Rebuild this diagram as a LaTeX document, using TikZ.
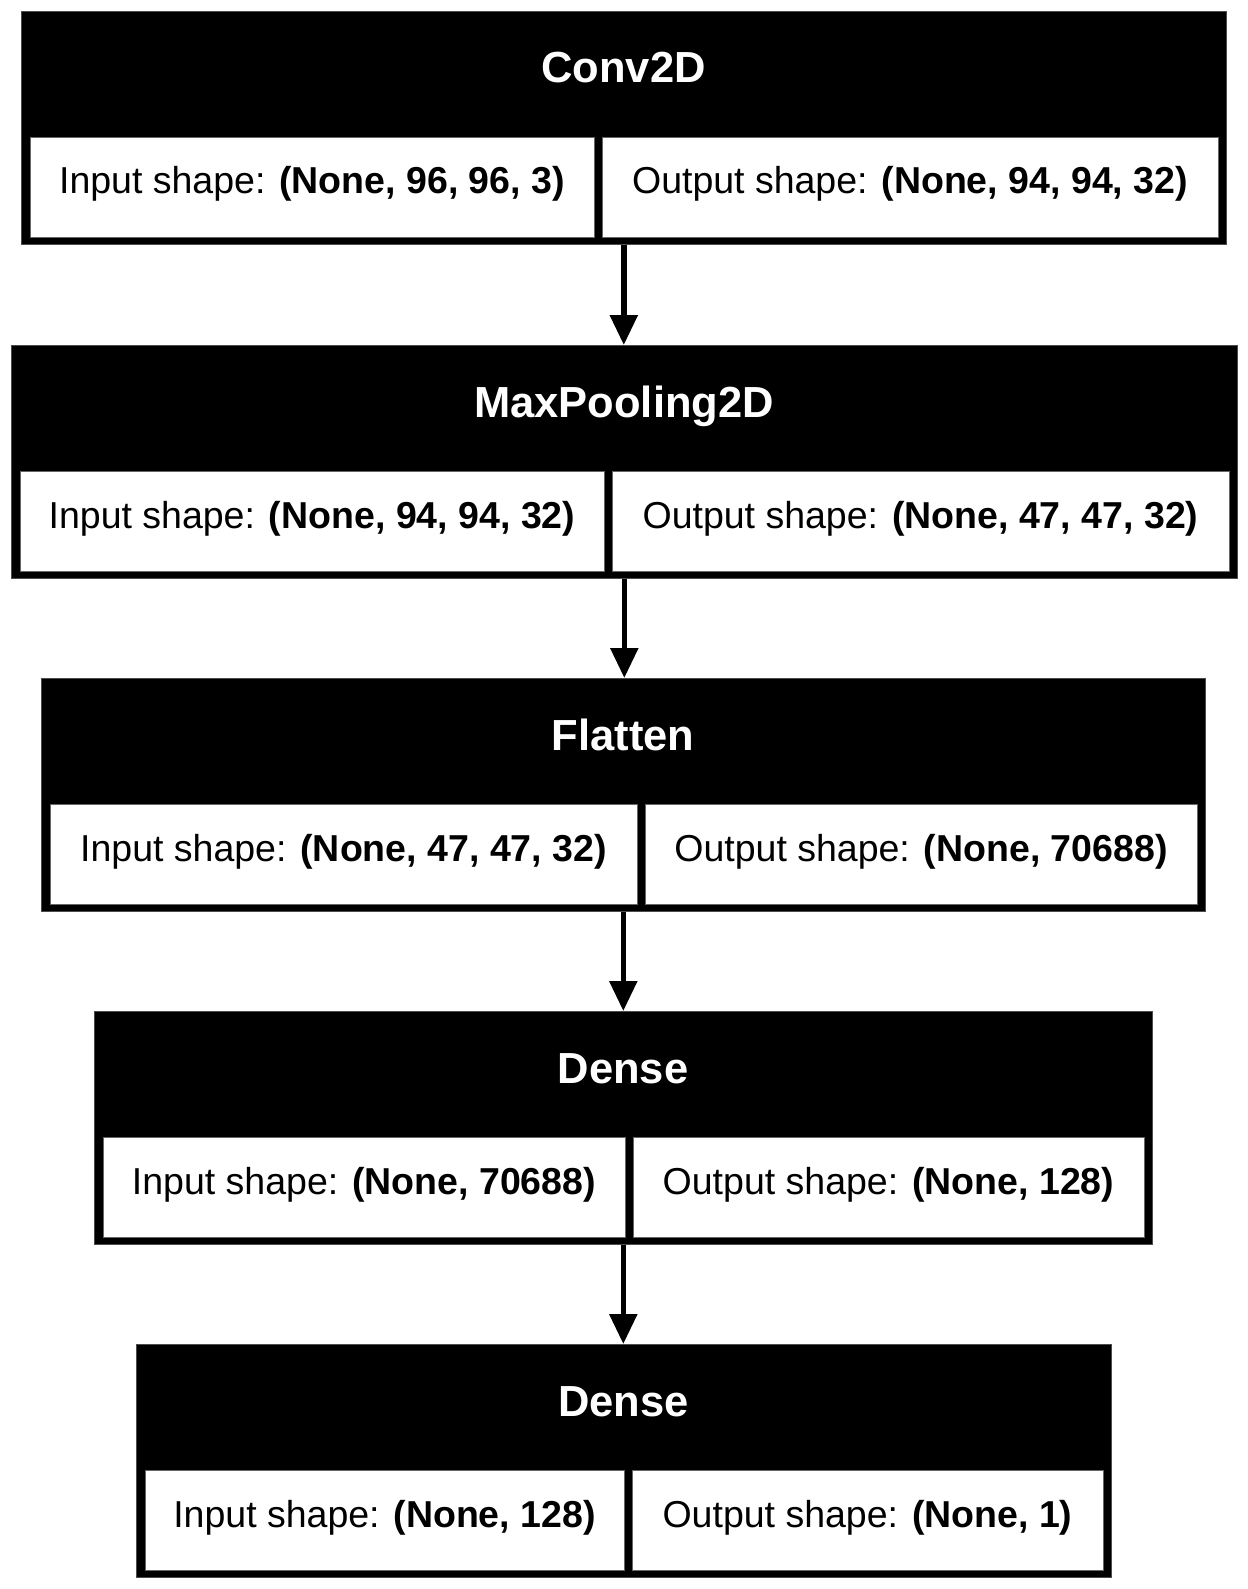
\documentclass[tikz,border=0pt]{standalone}
\usepackage{fontspec}
\setmainfont{Liberation Sans}
\usetikzlibrary{arrows.meta}
\tikzset{
  blk/.style={rectangle, fill=black, draw=black!70, line width=0.6pt, inner sep=0pt, anchor=north west},
  cellbox/.style={rectangle, fill=white, draw=black!60, line width=0.6pt, inner sep=0pt, anchor=north west},
  ttl/.style={anchor=base, inner sep=0pt, text=white, font=\fontsize{43.5}{50}\selectfont\bfseries},
  ctext/.style={anchor=base, inner sep=0pt, text=black, font=\fontsize{37.5}{45}\selectfont},
  arr/.style={line width=5.5pt, -{Triangle[width=27pt,length=30pt]}}
}
% #1 name, #2 top, #3 left, #4 right, #5 divider left, #6 title, #7 input, #8 output
\newcommand\kblock[8]{%
  \node[blk, minimum width={#4-#3}, minimum height=233] (#1) at (#3,#2) {};
  \node[cellbox, minimum width={#5-#3-9}, minimum height=100] (#1in) at (#3+9,#2+126) {};
  \node[cellbox, minimum width={#4-8-#5-8}, minimum height=100] (#1out) at (#5+8,#2+126) {};
  \node[ttl] (#1t) at ({(#3+#4)/2},#2+72) {#6};
  \node[ctext] (#1it) at ({(#3+9+#5)/2},#2+183) {Input shape: \textbf{#7}};
  \node[ctext] (#1ot) at ({(#5+8+#4-8)/2},#2+183) {Output shape: \textbf{#8}};
}
\begin{document}
\begin{tikzpicture}[x=1pt,y=-1pt]
\useasboundingbox[fill=white] (0,0) rectangle (1247,1589);
\kblock{b1}{11}{21}{1226}{594}{Conv2D}{(None, 96, 96, 3)}{(None, 94, 94, 32)}
\kblock{b2}{345}{11}{1237}{604}{MaxPooling2D}{(None, 94, 94, 32)}{(None, 47, 47, 32)}
\kblock{b3}{678}{41}{1205}{637}{Flatten}{(None, 47, 47, 32)}{(None, 70688)}
\kblock{b4}{1011}{94}{1152}{625}{Dense}{(None, 70688)}{(None, 128)}
\kblock{b5}{1344}{136}{1111}{624}{Dense}{(None, 128)}{(None, 1)}
\draw[arr] (b1.south) -- (b1.south |- b2.north);
\draw[arr] (b2.south) -- (b2.south |- b3.north);
\draw[arr] (b3.south) -- (b3.south |- b4.north);
\draw[arr] (b4.south) -- (b4.south |- b5.north);
\end{tikzpicture}
\end{document}
